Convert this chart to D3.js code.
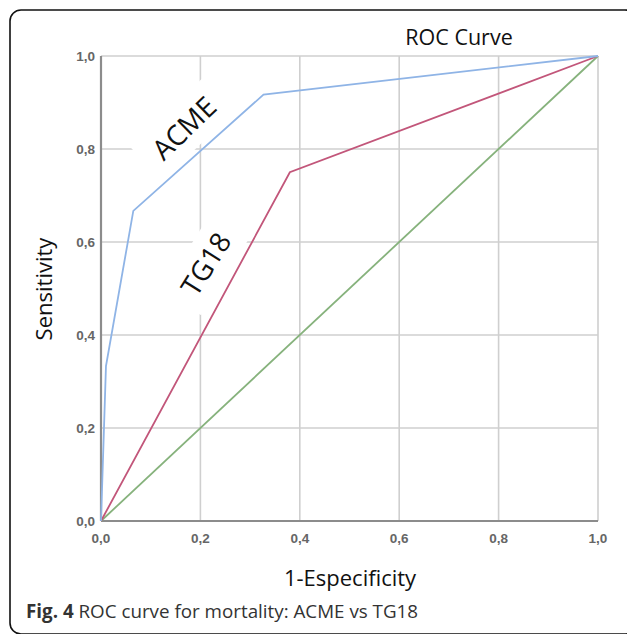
<!DOCTYPE html>
<meta charset="utf-8">
<title>ROC Curve</title>
<script src="https://d3js.org/d3.v7.min.js"></script>
<style>
  body { margin: 0; background: #fff; }
</style>
<body>
<div id="chart"></div>
<script>
// ROC curves
var acmeX = [0, 0.01, 0.065, 0.327, 1];
var acmeY = [0, 0.333, 0.667, 0.917, 1];
var tg18X = [0, 0.38, 1];
var tg18Y = [0, 0.75, 1];
var refX = [0, 1];
var refY = [0, 1];
var tickValues = [0, 0.2, 0.4, 0.6, 0.8, 1.0];
var tickLabels = ["0,0", "0,2", "0,4", "0,6", "0,8", "1,0"];

var W = 627, H = 634;
var svg = d3.select("#chart").append("svg")
    .attr("width", W).attr("height", H);

// frame (right and bottom edges fall outside the picture)
svg.append("rect")
    .attr("x", 10).attr("y", 10)
    .attr("width", 626).attr("height", 624)
    .attr("rx", 11)
    .attr("fill", "none").attr("stroke", "#111").attr("stroke-width", 1.6);

var x = d3.scaleLinear().domain([0, 1]).range([101, 598]);
var y = d3.scaleLinear().domain([0, 1]).range([521, 56]);

// grid
var grid = svg.append("g").attr("stroke", "#cfcfcf").attr("stroke-width", 1.6);
grid.selectAll(".gx").data(tickValues.slice(1)).enter().append("line")
    .attr("x1", d => x(d)).attr("x2", d => x(d))
    .attr("y1", y(0)).attr("y2", y(1));
grid.selectAll(".gy").data(tickValues.slice(1)).enter().append("line")
    .attr("x1", x(0)).attr("x2", x(1))
    .attr("y1", d => y(d)).attr("y2", d => y(d));

// axis lines
svg.append("line").attr("x1", x(0)).attr("x2", x(0)).attr("y1", y(0)).attr("y2", y(1))
    .attr("stroke", "#8c8c8c").attr("stroke-width", 2.2);
svg.append("line").attr("x1", x(0)).attr("x2", x(1)).attr("y1", y(0)).attr("y2", y(0))
    .attr("stroke", "#8c8c8c").attr("stroke-width", 2.2);

// tick labels
var tickFont = "'Liberation Sans', Arial, sans-serif";
svg.selectAll(".ty").data(tickValues).enter().append("text")
    .attr("x", 95).attr("y", d => y(d)).attr("dy", "0.35em")
    .attr("text-anchor", "end")
    .attr("font-family", tickFont).attr("font-size", 13.5).attr("font-weight", "bold")
    .attr("fill", "#666")
    .text((d, i) => tickLabels[i]);
svg.selectAll(".tx").data(tickValues).enter().append("text")
    .attr("x", d => x(d)).attr("y", 543)
    .attr("text-anchor", "middle")
    .attr("font-family", tickFont).attr("font-size", 13.5).attr("font-weight", "bold")
    .attr("fill", "#666")
    .text((d, i) => tickLabels[i]);

var titleFont = "'Open Sans', 'Noto Sans', sans-serif";

// curve labels with white boxes (they hide the grid behind them)
function curveLabel(txt, cx, cy, angle, bw, bh) {
  var g = svg.append("g").attr("transform", "translate(" + cx + "," + cy + ") rotate(" + angle + ")");
  g.append("rect").attr("x", -bw / 2).attr("y", -bh / 2).attr("width", bw).attr("height", bh)
      .attr("fill", "#fff");
  g.append("text").attr("text-anchor", "middle").attr("dy", "0.36em")
      .attr("font-family", titleFont).attr("font-size", 28).attr("fill", "#111")
      .text(txt);
}
curveLabel("ACME", 184, 128, -44, 104, 46);
curveLabel("TG18", 206, 264, -58, 92, 46);

// curves
var line = d3.line().x(d => x(d[0])).y(d => y(d[1]));
function draw(xs, ys, color) {
  svg.append("path")
      .datum(xs.map((v, i) => [v, ys[i]]))
      .attr("d", line)
      .attr("fill", "none").attr("stroke", color).attr("stroke-width", 1.8);
}
draw(refX, refY, "#86b27c");
draw(tg18X, tg18Y, "#c2567a");
draw(acmeX, acmeY, "#8fb4e6");

// titles
svg.append("text").attr("x", 459).attr("y", 45).attr("text-anchor", "middle")
    .attr("font-family", titleFont).attr("font-size", 21.5).attr("fill", "#111")
    .text("ROC Curve");
svg.append("text").attr("x", 350).attr("y", 586).attr("text-anchor", "middle")
    .attr("font-family", titleFont).attr("font-size", 22).attr("fill", "#111")
    .text("1-Especificity");
svg.append("text").attr("transform", "translate(52,289) rotate(-90)")
    .attr("text-anchor", "middle")
    .attr("font-family", titleFont).attr("font-size", 22).attr("fill", "#111")
    .text("Sensitivity");

// caption
var cap = svg.append("text").attr("x", 26).attr("y", 618)
    .attr("font-family", titleFont).attr("font-size", 18.8).attr("fill", "#333");
cap.append("tspan").attr("font-weight", "bold").text("Fig. 4");
cap.append("tspan").text(" ROC curve for mortality: ACME vs TG18");
</script>
</body>
